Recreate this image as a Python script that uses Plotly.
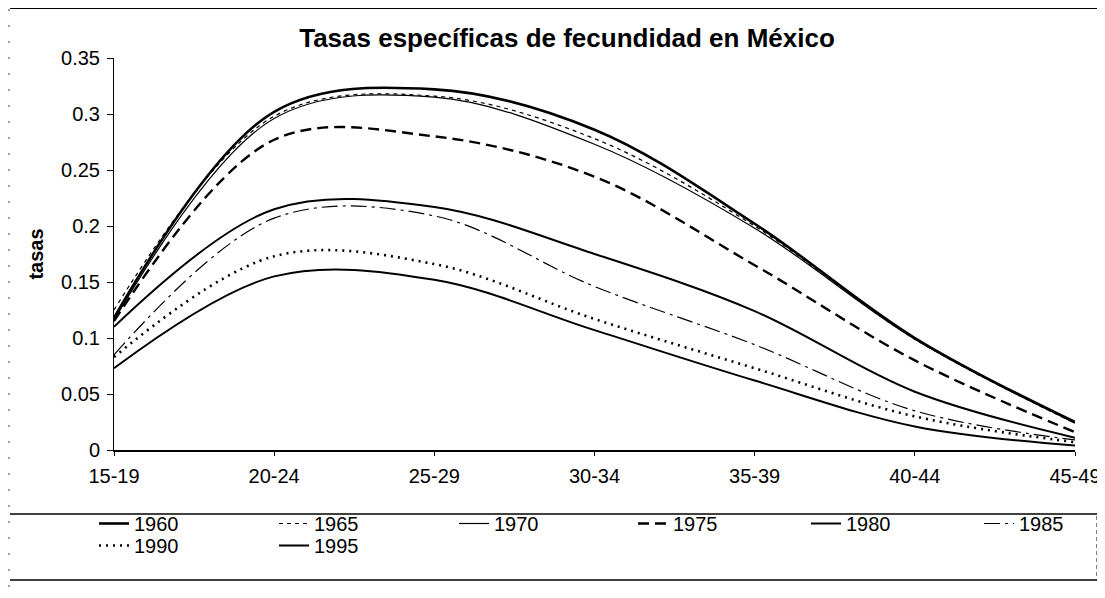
import plotly.graph_objects as go

# ---------------- data ----------------
ages = ["15-19", "20-24", "25-29", "30-34", "35-39", "40-44", "45-49"]

t1960 = [0.118, 0.302, 0.322, 0.286, 0.202, 0.100, 0.025]
t1965 = [0.125, 0.298, 0.316, 0.278, 0.200, 0.099, 0.024]
t1970 = [0.116, 0.296, 0.315, 0.273, 0.198, 0.099, 0.024]
t1975 = [0.115, 0.277, 0.280, 0.244, 0.165, 0.080, 0.016]
t1980 = [0.110, 0.215, 0.217, 0.175, 0.124, 0.052, 0.011]
t1985 = [0.085, 0.207, 0.209, 0.146, 0.094, 0.035, 0.009]
t1990 = [0.083, 0.173, 0.166, 0.117, 0.073, 0.030, 0.007]
t1995 = [0.073, 0.155, 0.152, 0.107, 0.062, 0.021, 0.004]

years = ["1960", "1965", "1970", "1975", "1980", "1985", "1990", "1995"]
series = [t1960, t1965, t1970, t1975, t1980, t1985, t1990, t1995]

y_tickvals = [0, 0.05, 0.10, 0.15, 0.20, 0.25, 0.30, 0.35]
y_ticktext = ["0", "0.05", "0.1", "0.15", "0.2", "0.25", "0.3", "0.35"]

title_text = "Tasas específicas de fecundidad en México"
ytitle_text = "tasas"

# ---------------- styles ----------------
styles = {
    "1960": dict(width=2.6, dash="solid", legend="legend"),
    "1965": dict(width=1.2, dash="4px,4px", legend="legend"),
    "1970": dict(width=1.2, dash="solid", legend="legend"),
    "1975": dict(width=2.4, dash="11px,6px", legend="legend2"),
    "1980": dict(width=2.0, dash="solid", legend="legend2"),
    "1985": dict(width=1.2, dash="16px,5px,3px,5px", legend="legend2"),
    "1990": dict(width=2.6, dash="2px,5px", legend="legend3"),
    "1995": dict(width=2.0, dash="solid", legend="legend3"),
}

# page has an 8px body margin: figure is drawn at (8, 8) in the screenshot
OFF = 8
SCREEN_W, SCREEN_H = 1105, 598
W, H = SCREEN_W - OFF, SCREEN_H - OFF

# plot area in screenshot pixels
PX_LEFT, PX_RIGHT, PX_TOP, PX_BOTTOM = 114, 1075, 58, 450
ML = PX_LEFT - OFF
MR = W - (PX_RIGHT - OFF)
MT = PX_TOP - OFF
MB = H - (PX_BOTTOM - OFF)
PW = W - ML - MR
PH = H - MT - MB


def px_x(sx):
    """screenshot x -> paper x"""
    return (sx - OFF - ML) / PW


def px_y(sy):
    """screenshot y -> paper y"""
    return (H - MB - (sy - OFF)) / PH


fig = go.Figure()
for yr, vals in zip(years, series):
    st = styles[yr]
    fig.add_trace(go.Scatter(
        x=ages, y=vals, name=yr, mode="lines",
        line=dict(color="black", width=st["width"], dash=st["dash"],
                  shape="spline", smoothing=1.0),
        legend=st["legend"],
        hoverinfo="skip",
    ))

FONT = "Arial, Liberation Sans, sans-serif"

legend_common = dict(
    orientation="h", xanchor="left", yanchor="top",
    bgcolor="rgba(0,0,0,0)", borderwidth=0,
    font=dict(family=FONT, size=20, color="black"),
    entrywidthmode="pixels", traceorder="normal",
)

shapes = [
    # chart frame top
    dict(type="line", xref="paper", yref="paper", x0=px_x(10), x1=px_x(1105),
         y0=px_y(8), y1=px_y(8), line=dict(color="black", width=2)),
    # chart frame left (faint, broken)
    dict(type="line", xref="paper", yref="paper", x0=px_x(9), x1=px_x(9),
         y0=px_y(9), y1=px_y(597), line=dict(color="#444", width=1, dash="2px,14px")),
    # legend box top
    dict(type="line", xref="paper", yref="paper", x0=px_x(10), x1=px_x(1100),
         y0=px_y(514), y1=px_y(514), line=dict(color="black", width=1.5)),
    # legend box bottom
    dict(type="line", xref="paper", yref="paper", x0=px_x(10), x1=px_x(1097),
         y0=px_y(580), y1=px_y(580), line=dict(color="black", width=1.5)),
    # legend box right (dashed)
    dict(type="line", xref="paper", yref="paper", x0=px_x(1097), x1=px_x(1097),
         y0=px_y(516), y1=px_y(580), line=dict(color="black", width=1, dash="4px,3px")),
]

fig.update_layout(
    width=W, height=H,
    margin=dict(l=ML, r=MR, t=MT, b=MB, autoexpand=False),
    paper_bgcolor="white", plot_bgcolor="white",
    font=dict(family=FONT, color="black"),
    title=dict(text=title_text, xref="container", x=(567 - OFF) / W, xanchor="center",
               yref="container", y=1 - (38 - OFF) / H, yanchor="middle",
               font=dict(family=FONT, size=26, color="black", weight="bold")),
    xaxis=dict(type="category", range=[0, 6], showgrid=False, zeroline=False,
               showline=True, linecolor="black", linewidth=1.5,
               ticks="outside", ticklen=4, tickcolor="black",
               tickfont=dict(family=FONT, size=20, color="black"),
               ticklabelstandoff=3),
    yaxis=dict(range=[0, 0.35], showgrid=False, zeroline=False,
               showline=True, linecolor="black", linewidth=1,
               ticks="outside", ticklen=6, tickcolor="black",
               tickvals=y_tickvals, ticktext=y_ticktext,
               tickfont=dict(family=FONT, size=20, color="black"),
               ticklabelstandoff=3,
               title=dict(text=ytitle_text, standoff=12,
                          font=dict(family=FONT, size=20, color="black", weight="bold"))),
    legend=dict(legend_common, x=px_x(94), y=px_y(504), entrywidth=135),
    legend2=dict(legend_common, x=px_x(633), y=px_y(504), entrywidth=128),
    legend3=dict(legend_common, x=px_x(94), y=px_y(526), entrywidth=135),
    shapes=shapes,
    showlegend=True,
)

fig.write_html("out.html")
